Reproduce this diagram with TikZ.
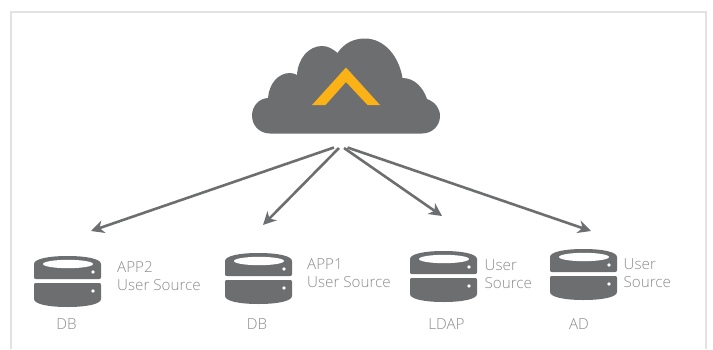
\documentclass[tikz,border=0pt]{standalone}
\usepackage{fontspec}
\setmainfont{Open Sans Light}
\usetikzlibrary{arrows.meta}
\definecolor{darkgray}{HTML}{6D6E70}
\definecolor{labelgray}{HTML}{8A8B8D}
\definecolor{framegray}{HTML}{E2E2E2}
\definecolor{chevron}{HTML}{FBB216}
\tikzset{
  lbl/.style={text=labelgray,font=\fontsize{15.2}{18.5}\selectfont,inner sep=0pt,align=left},
  captxt/.style={text=labelgray,font=\fontsize{15.2}{18.5}\selectfont,inner sep=0pt,anchor=base},
  link/.style={draw=darkgray,line width=2.6pt,-{Stealth[length=13pt,width=13pt,inset=4pt]}},
  dbstack/.pic={
    \fill[darkgray] (0,8) .. controls (0,3) and (14,0) .. (33.5,0) .. controls (53,0) and (67,3) .. (67,8)
      -- (67,21) .. controls (67,22.5) and (66.5,23) .. (65,23) -- (2,23) .. controls (0.5,23) and (0,22.5) .. (0,21) -- cycle;
    \fill[darkgray] (2,27) -- (65,27) .. controls (66.5,27) and (67,27.5) .. (67,29) -- (67,43)
      .. controls (67,48) and (53,51) .. (33.5,51) .. controls (14,51) and (0,48) .. (0,43) -- (0,29) .. controls (0,27.5) and (0.5,27) .. (2,27) -- cycle;
    \fill[white] (34,8) ellipse [x radius=25,y radius=4.2];
    \fill[white] (59,16) circle (1.8);
    \fill[white] (59,35) circle (1.8);
  }
}
\begin{document}
\begin{tikzpicture}[x=1pt,y=-1pt]
\useasboundingbox (0,0) rectangle (713,349);
\draw[framegray,line width=1.8pt] (11,349) -- (11,12) -- (706,12) -- (706,349);
% cloud
\fill[darkgray] (270,133.5)
  .. controls (259,133.5) and (252,125) .. (252,115.5)
  .. controls (252,106) and (259,98.5) .. (268,98)
  .. controls (269,84) and (278,73) .. (290,73)
  .. controls (293,73) and (295,74) .. (297,75)
  .. controls (298,58) and (309,46) .. (322,46)
  .. controls (328,46) and (333,49) .. (337.5,53)
  .. controls (344,43) and (354,38.5) .. (365,38.5)
  .. controls (384,38.5) and (399,56) .. (402.5,78)
  .. controls (414,78) and (423,87) .. (427,99)
  .. controls (435,102) and (440,108) .. (440,116)
  .. controls (440,126) and (432,133.5) .. (422,133.5) -- cycle;
\fill[chevron] (312,105) -- (346,67.5) -- (380,105) -- (367.5,105) -- (346,82) -- (325.5,105) -- cycle;
% databases
\pic at (34,256) {dbstack};
\pic at (225,253) {dbstack};
\pic at (410,251) {dbstack};
\pic at (550,249) {dbstack};
% connector ends
\coordinate (s1) at (334,147.5);
\coordinate (s2) at (339,148);
\coordinate (s3) at (344,148);
\coordinate (s4) at (347.5,147.5);
\coordinate (t1) at (91,231);
\coordinate (t2) at (263,225);
\coordinate (t3) at (442,216);
\coordinate (t4) at (591,231);
\draw[link] (s1) -- (t1);
\draw[link] (s2) -- (t2);
\draw[link] (s3) -- (t3);
\draw[link] (s4) -- (t4);
% labels
\node[lbl,anchor=base west] (l1) at (117,290.5) {APP2\\User Source};
\node[lbl,anchor=base west] (l2) at (307,287.5) {APP1\\User Source};
\node[lbl,anchor=base west] (l3) at (484.5,288.5) {User\\Source};
\node[lbl,anchor=base west] (l4) at (623.5,287.5) {User\\Source};
\node[captxt] (c1) at (66.5,329) {DB};
\node[captxt] (c2) at (257,329) {DB};
\node[captxt] (c3) at (446.5,329) {LDAP};
\node[captxt] (c4) at (579,329) {AD};
\end{tikzpicture}
\end{document}
